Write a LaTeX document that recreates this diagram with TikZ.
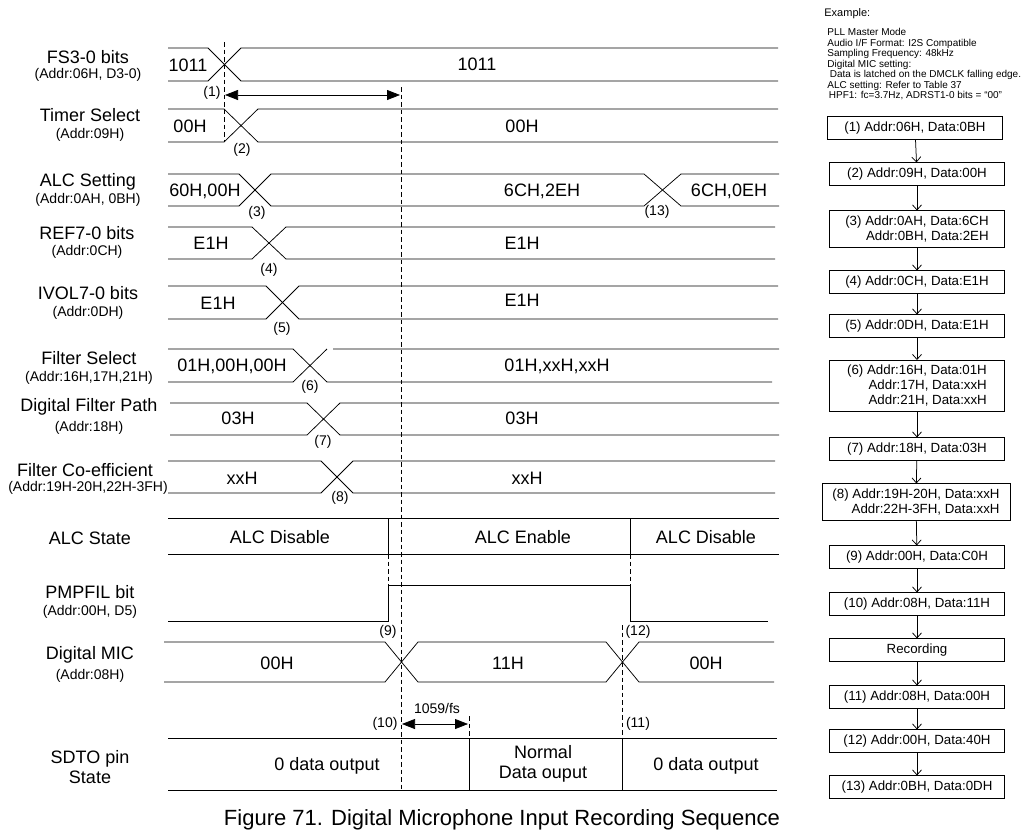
\documentclass[tikz,border=0pt]{standalone}
\usepackage{fontspec}
\setmainfont{Liberation Sans}
\usetikzlibrary{arrows.meta,positioning}

\begin{document}
\begin{tikzpicture}[x=1pt,y=-1pt,line width=0.75pt,
  sig/.style={font=\fontsize{18}{20}\selectfont,inner sep=0pt},
  addr/.style={font=\fontsize{14}{16}\selectfont,inner sep=0pt},
  val/.style={font=\fontsize{18}{20}\selectfont,inner sep=0pt},
  num/.style={font=\fontsize{14}{16}\selectfont,inner sep=0pt},
  stepbox/.style={draw,minimum width=175pt,minimum height=21pt,inner ysep=5pt,align=right,
    font=\fontsize{13.3}{15}\selectfont},
  flow/.style={-{Straight Barb[length=5pt,width=9pt]}},
  dim/.style={{Triangle[length=13pt,width=10pt]}-{Triangle[length=13pt,width=10pt]}},
  guide/.style={dash pattern=on 4.5pt off 3pt}]
\useasboundingbox (0,0) rectangle (1024,836);

% signal names
\node[sig] (fs) at (88,57) {FS3-0 bits};
\node[addr] (fsa) at (88,75) {(Addr:06H, D3-0)};
\node[sig] (tm) at (90,115) {Timer Select};
\node[addr] (tma) at (90,135) {(Addr:09H)};
\node[sig] (alc) at (88,182) {ALC Setting};
\node[addr] (alca) at (88,200) {(Addr:0AH, 0BH)};
\node[sig] (ref) at (87,233) {REF7-0 bits};
\node[addr] (refa) at (87,252) {(Addr:0CH)};
\node[sig] (ivol) at (88,293) {IVOL7-0 bits};
\node[addr] (ivola) at (88,313) {(Addr:0DH)};
\node[sig] (fsel) at (89,358) {Filter Select};
\node[addr] (fsela) at (89,378) {(Addr:16H,17H,21H)};
\node[sig] (dfp) at (89,407) {Digital Filter Path};
\node[addr] (dfpa) at (89,428) {(Addr:18H)};
\node[sig] (fco) at (85,470) {Filter Co-efficient};
\node[addr] (fcoa) at (88,488) {(Addr:19H-20H,22H-3FH)};
\node[sig] (alcs) at (90,538) {ALC State};
\node[sig] (pmp) at (90,592) {PMPFIL bit};
\node[addr] (pmpa) at (90,612) {(Addr:00H, D5)};
\node[sig] (mic) at (90,655) {Digital MIC};
\node[addr] (mica) at (90,676) {(Addr:08H)};
\node[sig,align=center] (sdto) at (90,767) {SDTO pin\\State};

% waveforms
\draw (168,48) -- (208,48) -- (241,81) -- (778,81);
\draw (168,81) -- (208,81) -- (241,48) -- (778,48);
\draw (168,109) -- (224,109) -- (258,142) -- (778,142);
\draw (168,142) -- (224,142) -- (258,109) -- (778,109);
\draw (168,174) -- (239,174) -- (271,206) -- (644,206) -- (681,174) -- (779,174);
\draw (168,206) -- (239,206) -- (271,174) -- (644,174) -- (681,206) -- (779,206);
\draw (168,227) -- (252,227) -- (286,259) -- (775,259);
\draw (168,259) -- (252,259) -- (286,227) -- (775,227);
\draw (168,286) -- (266,286) -- (299,319) -- (778,319);
\draw (168,319) -- (266,319) -- (299,286) -- (778,286);
\draw (168,349) -- (293,349) -- (327,382) -- (772,382);
\draw (168,382) -- (293,382) -- (327,349) (333,349) -- (779,349);
\draw (170,403) -- (307,403) -- (340,435) -- (779,435);
\draw (170,435) -- (307,435) -- (340,403) -- (779,403);
\draw (168,461) -- (321,461) -- (353,493) -- (775,493);
\draw (168,493) -- (321,493) -- (353,461) -- (775,461);
\draw (168,518) -- (779,518) (168,554) -- (779,554) (388,518) -- (388,554) (630,518) -- (630,554);
\draw (168,621) -- (388,621) -- (388,585) -- (630,585) -- (630,621) -- (768,621);
\draw (164,642) -- (385,642) -- (418,682) -- (606,682) -- (639,642) -- (774,642);
\draw (164,682) -- (385,682) -- (418,642) -- (606,642) -- (639,682) -- (774,682);
\draw (168,738) -- (777,738) (168,790) -- (777,790) (469,738) -- (469,790) (622,738) -- (622,790);

% timing guides
\draw[guide] (224,42) -- (224,140);
\draw[guide] (401,87) -- (401,790);
\draw[guide] (388,554) -- (388,585);
\draw[guide] (630,554) -- (630,585);
\draw[guide] (622,625) -- (622,738);
\draw[guide] (469,716) -- (469,738);

\coordinate (t1a) at (225,95);
\coordinate (t1b) at (400,95);
\draw[dim] (t1a) -- (t1b);
\coordinate (t2a) at (402,724);
\coordinate (t2b) at (468,724);
\draw[dim] (t2a) -- (t2b);
\node[num] (tfs) at (437,708) {1059/fs};

% values
\node[val] (v1a) at (188,65) {1011};
\node[val] (v1b) at (477,64) {1011};
\node[val] (v2a) at (190,126) {00H};
\node[val] (v2b) at (522,126) {00H};
\node[val] (v3a) at (205,191) {60H,00H};
\node[val] (v3b) at (542,191) {6CH,2EH};
\node[val] (v3c) at (729,191) {6CH,0EH};
\node[val] (v4a) at (211,243) {E1H};
\node[val] (v4b) at (522,243) {E1H};
\node[val] (v5a) at (218,303) {E1H};
\node[val] (v5b) at (522,300) {E1H};
\node[val] (v6a) at (232,366) {01H,00H,00H};
\node[val] (v6b) at (557,366) {01H,xxH,xxH};
\node[val] (v7a) at (238,418) {03H};
\node[val] (v7b) at (522,418) {03H};
\node[val] (v8a) at (242,478) {xxH};
\node[val] (v8b) at (527,478) {xxH};
\node[val] (s1) at (280,537) {ALC Disable};
\node[val] (s2) at (523,537) {ALC Enable};
\node[val] (s3) at (706,537) {ALC Disable};
\node[val] (m1) at (277,663) {00H};
\node[val] (m2) at (508,663) {11H};
\node[val] (m3) at (706,663) {00H};
\node[val] (d1) at (327,766) {0 data output};
\node[val,align=center] (d2) at (543,764) {Normal\\Data ouput};
\node[val] (d3) at (706,766) {0 data output};

% step numbers
\node[num] (n1) at (212,93) {(1)};
\node[num] (n2) at (242,150) {(2)};
\node[num] (n3) at (257,213) {(3)};
\node[num] (n13) at (657,212) {(13)};
\node[num] (n4) at (269,270) {(4)};
\node[num] (n5) at (282,329) {(5)};
\node[num] (n6) at (310,387) {(6)};
\node[num] (n7) at (323,442) {(7)};
\node[num] (n8) at (340,498) {(8)};
\node[num] (n9) at (388,632) {(9)};
\node[num] (n12) at (638,632) {(12)};
\node[num] (n10) at (385,724) {(10)};
\node[num] (n11) at (638,724) {(11)};

% example sequence
\node[anchor=west,font=\fontsize{11}{13}\selectfont,inner sep=0pt] (ex) at (824,14) {Example:};
\node[anchor=north west,align=left,font=\fontsize{10}{10.5}\selectfont,inner sep=0pt] (setup) at (827,28)
  {PLL Master Mode\\Audio I/F Format: I2S Compatible\\Sampling Frequency: 48kHz\\Digital MIC setting:\\
   \hspace{2.5pt}Data is latched on the DMCLK falling edge.\\ALC setting: Refer to Table 37\\
   \hspace{1.5pt}HPF1: fc=3.7Hz, ADRST1-0 bits = “00”};
\node[stepbox] (b1) at (915,128) {(1) Addr:06H, Data:0BH};
\node[stepbox] (b2) at (917,174) {(2) Addr:09H, Data:00H};
\node[stepbox] (b3) at (917,229) {(3) Addr:0AH, Data:6CH\\Addr:0BH, Data:2EH};
\node[stepbox] (b4) at (917,282) {(4) Addr:0CH, Data:E1H};
\node[stepbox] (b5) at (917,326) {(5) Addr:0DH, Data:E1H};
\node[stepbox] (b6) at (917,386) {(6) Addr:16H, Data:01H\\Addr:17H, Data:xxH\\Addr:21H, Data:xxH};
\node[stepbox] (b7) at (917,449) {(7) Addr:18H, Data:03H};
\node[stepbox,minimum width=188pt] (b8) at (916,502) {(8) Addr:19H-20H, Data:xxH\\Addr:22H-3FH, Data:xxH};
\node[stepbox] (b9) at (917,557) {(9) Addr:00H, Data:C0H};
\node[stepbox] (b10) at (917,604) {(10) Addr:08H, Data:11H};
\node[stepbox] (rec) at (917,650) {Recording};
\node[stepbox] (b11) at (917,697) {(11) Addr:08H, Data:00H};
\node[stepbox] (b12) at (917,741) {(12) Addr:00H, Data:40H};
\node[stepbox] (b13) at (917,787) {(13) Addr:0BH, Data:0DH};
\draw[flow] (b1) -- (b2);
\draw[flow] (b2) -- (b3);
\draw[flow] (b3) -- (b4);
\draw[flow] (b4) -- (b5);
\draw[flow] (b5) -- (b6);
\draw[flow] (b6) -- (b7);
\draw[flow] (b7) -- (b8);
\draw[flow] (b8) -- (b9);
\draw[flow] (b9) -- (b10);
\draw[flow] (b10) -- (rec);
\draw[flow] (rec) -- (b11);
\draw[flow] (b11) -- (b12);
\draw[flow] (b12) -- (b13);

\node[font=\fontsize{22}{26}\selectfont] (cap) at (502,820) {Figure 71. Digital Microphone Input Recording Sequence};
\end{tikzpicture}
\end{document}
